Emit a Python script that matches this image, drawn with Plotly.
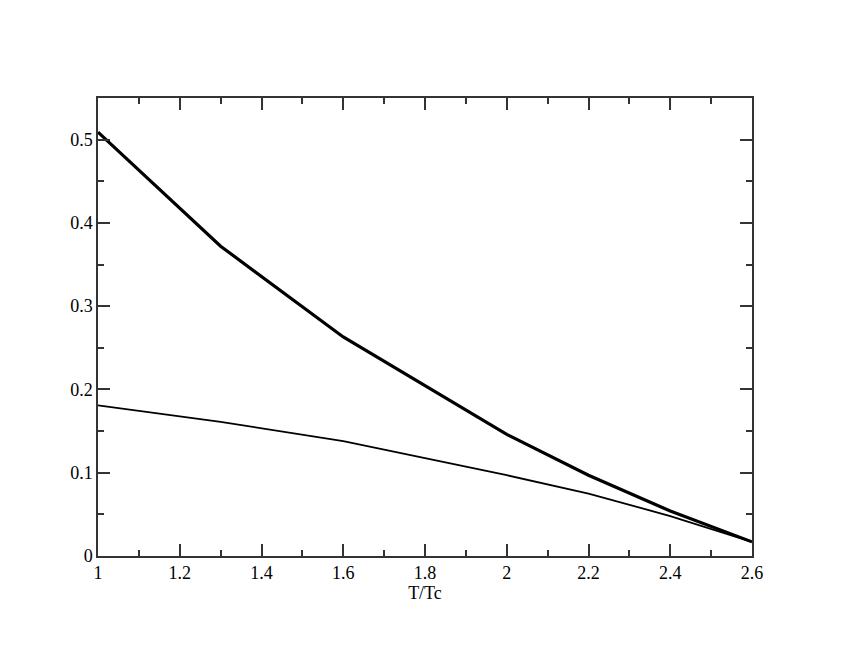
import plotly.graph_objects as go

x_vals = [1.0, 1.3, 1.6, 2.0, 2.2, 2.4, 2.6]
thick_series = [0.509, 0.372, 0.263, 0.146, 0.097, 0.054, 0.017]
thin_series = [0.181, 0.161, 0.138, 0.097, 0.075, 0.048, 0.017]

x_ticks = [1, 1.2, 1.4, 1.6, 1.8, 2, 2.2, 2.4, 2.6]
x_ticklabels = ["1", "1.2", "1.4", "1.6", "1.8", "2", "2.2", "2.4", "2.6"]
y_ticks = [0, 0.1, 0.2, 0.3, 0.4, 0.5]
y_ticklabels = ["0", "0.1", "0.2", "0.3", "0.4", "0.5"]

fig = go.Figure()
fig.add_trace(go.Scatter(x=x_vals, y=thin_series, mode="lines",
                         line=dict(color="black", width=1.8), showlegend=False))
fig.add_trace(go.Scatter(x=x_vals, y=thick_series, mode="lines",
                         line=dict(color="black", width=3.2), showlegend=False))

font = dict(family="Liberation Serif", size=18, color="black")

fig.update_layout(
    width=846, height=654,
    margin=dict(l=90, r=102, t=90, b=106),
    paper_bgcolor="white", plot_bgcolor="white",
    font=font,
    xaxis=dict(
        range=[1, 2.6], tickvals=x_ticks, ticktext=x_ticklabels,
        ticks="inside", ticklen=12, tickwidth=1.5, tickcolor="#333",
        showline=True, linecolor="#333", linewidth=1.5, mirror="ticks",
        showgrid=False, zeroline=False,
        minor=dict(ticks="inside", ticklen=6, tickwidth=1.5, tickcolor="#333", dtick=0.1, tick0=1, showgrid=False),
        title=dict(text="T/Tc", font=font, standoff=0),
        tickfont=font,
    ),
    yaxis=dict(
        range=[0, 0.55], tickvals=y_ticks, ticktext=y_ticklabels,
        ticks="inside", ticklen=12, tickwidth=1.5, tickcolor="#333",
        showline=True, linecolor="#333", linewidth=1.5, mirror="ticks",
        showgrid=False, zeroline=False,
        minor=dict(ticks="inside", ticklen=6, tickwidth=1.5, tickcolor="#333", dtick=0.05, tick0=0, showgrid=False),
        tickfont=font,
    ),
)

fig.write_html("out.html")
